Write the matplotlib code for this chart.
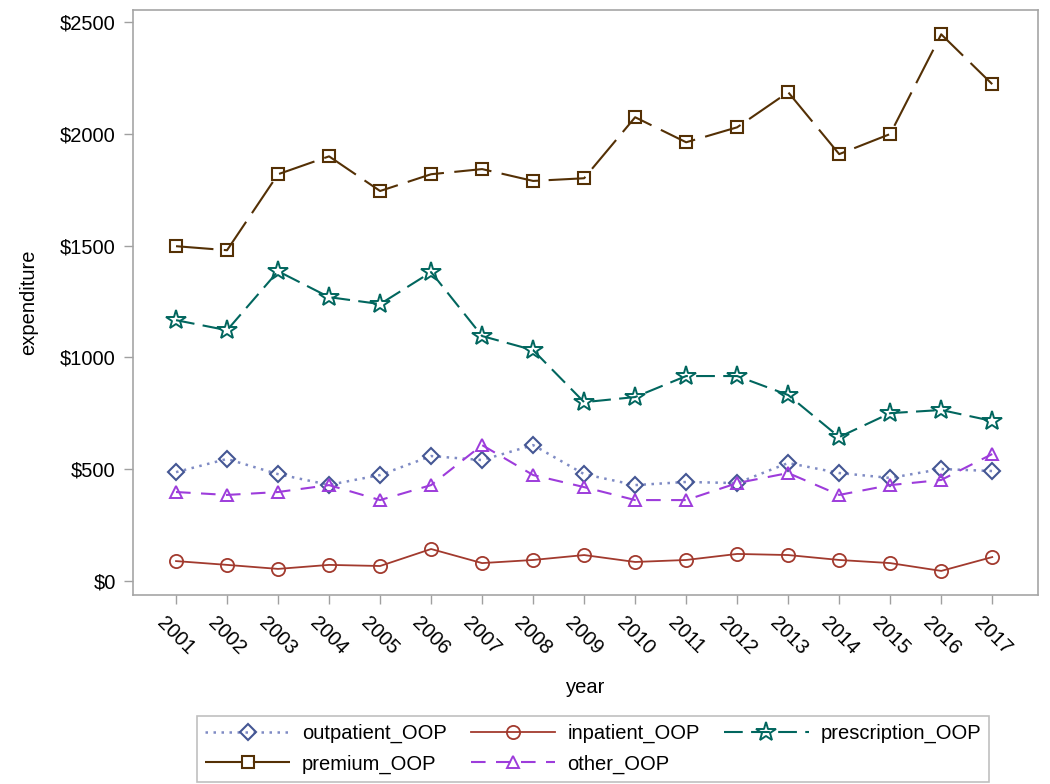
import numpy as np
import matplotlib
matplotlib.use("Agg")
import matplotlib.pyplot as plt
from matplotlib.ticker import FuncFormatter

plt.rcParams["font.family"] = ["Liberation Sans", "DejaVu Sans"]

years = list(range(2001, 2018))
outpatient = [487, 546, 478, 430, 474, 559, 541, 608, 478, 429, 443, 438, 528, 483, 461, 501, 492]
inpatient = [89, 72, 54, 72, 67, 143, 80, 94, 116, 85, 94, 121, 116, 94, 80, 45, 107]
prescription = [1167, 1122, 1386, 1270, 1239, 1382, 1096, 1033, 800, 823, 917, 917, 832, 644, 751, 765, 716]
premium = [1498, 1480, 1820, 1900, 1745, 1820, 1843, 1790, 1802, 2075, 1963, 2030, 2187, 1910, 2000, 2446, 2223]
other = [398, 385, 398, 429, 362, 429, 608, 474, 420, 362, 362, 438, 483, 385, 429, 452, 568]

fig = plt.figure(figsize=(10.5, 7.84), dpi=100)
ax = fig.add_axes([0.1267, 0.241, 0.862, 0.746])

series = {}
series["outpatient_OOP"] = ax.plot(years, outpatient, color="#7F8BC4", lw=1.8,
                                   ls=(0, (1, 2.2)), marker="D", ms=8, mfc="none",
                                   mec="#445694", mew=1.5)[0]
series["inpatient_OOP"] = ax.plot(years, inpatient, color="#A23A2E", lw=1.3, ls="-",
                                  marker="o", ms=9.5, mfc="none", mec="#A23A2E", mew=1.3)[0]
series["prescription_OOP"] = ax.plot(years, prescription, color="#01665E", lw=1.5,
                                     ls=(0, (9, 4)), marker="*", ms=15, mfc="none",
                                     mec="#01665E", mew=1.4)[0]
series["premium_OOP"] = ax.plot(years, premium, color="#543005", lw=1.5,
                                ls=(0, (18, 5)), marker="s", ms=8, mfc="none",
                                mec="#543005", mew=1.5)[0]
series["other_OOP"] = ax.plot(years, other, color="#9D3CDB", lw=1.5,
                              ls=(0, (7, 5)), marker="^", ms=8.5, mfc="none",
                              mec="#9D3CDB", mew=1.4)[0]

ax.set_xlim(2000.157, 2017.9)
ax.set_ylim(-63, 2554)
ax.set_xticks(years)
ax.set_xticklabels([str(y) for y in years], rotation=-45, ha="center", va="top")
ax.set_yticks([0, 500, 1000, 1500, 2000, 2500])
ax.yaxis.set_major_formatter(FuncFormatter(lambda v, p: f"${int(v)}"))
ax.tick_params(axis="both", labelsize=14.5, colors="#A0A0A0", labelcolor="black",
               length=6.5, width=1, pad=6)
ax.tick_params(axis="x", pad=7)
for s in ax.spines.values():
    s.set_color("#A5A5A5")
    s.set_linewidth(1.2)

ax.set_xlabel("year", fontsize=14.5, labelpad=14)
ax.set_ylabel("expenditure", fontsize=14.5, labelpad=16)

order = ["outpatient_OOP", "premium_OOP", "inpatient_OOP", "other_OOP", "prescription_OOP"]
leg = fig.legend([series[k] for k in order], order, ncol=3, loc="center",
                 bbox_to_anchor=(0.565, 0.045), fontsize=14.5, handlelength=4.2,
                 numpoints=1, frameon=True, fancybox=False, borderpad=0.4,
                 columnspacing=1.2, handletextpad=0.6, labelspacing=0.55)
leg.get_frame().set_edgecolor("#B0B0B0")
leg.get_frame().set_linewidth(1.2)

fig.savefig("out.png", dpi=100)
